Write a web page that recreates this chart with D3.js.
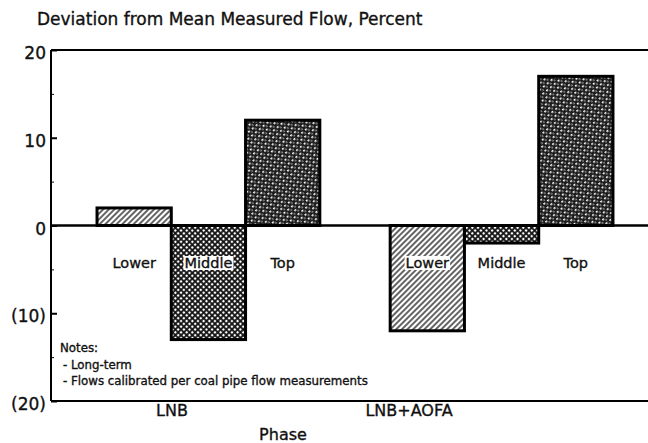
<!DOCTYPE html>
<html>
<head>
<meta charset="utf-8">
<script src="https://cdn.jsdelivr.net/npm/d3@7"></script>
<style>
  body { margin: 0; background: #fff; }
  text { font-family: "DejaVu Sans", Verdana, sans-serif; fill: #111; stroke: #111; stroke-width: 0.35px; }
</style>
</head>
<body>
<script>
// data
const phases = ["LNB", "LNB+AOFA"];
const positions = ["Lower", "Middle", "Top"];
const lnbValues = [2, -13, 12];
const lnbAofaValues = [-12, -2, 17];
const yTicks = [20, 10, 0, -10, -20];
const minorTicks = [15, 5, -5, -15];
const notes = ["Notes:", "- Long-term", "- Flows calibrated per coal pipe flow measurements"];

const rows = [];
[lnbValues, lnbAofaValues].forEach(function (vals, i) {
    vals.forEach(function (v, j) {
        rows.push({phase: phases[i], position: positions[j], value: v});
    });
});

var width = 648, height = 443;
var plot = {left: 51, right: 648, top: 50, bottom: 401};

var svg = d3.select("body").append("svg")
    .attr("width", width)
    .attr("height", height);

// patterns
var defs = svg.append("defs");
var hatch = defs.append("pattern")
    .attr("id", "pat-Lower")
    .attr("patternUnits", "userSpaceOnUse")
    .attr("width", 4).attr("height", 4)
    .attr("patternTransform", "rotate(45)");
hatch.append("rect").attr("width", 4).attr("height", 4).attr("fill", "#fff");
hatch.append("line").attr("x1", 1).attr("y1", 0).attr("x2", 1).attr("y2", 4)
    .attr("stroke", "#222").attr("stroke-width", 1.4);

var cross = defs.append("pattern")
    .attr("id", "pat-Middle")
    .attr("patternUnits", "userSpaceOnUse")
    .attr("width", 4).attr("height", 4)
    .attr("patternTransform", "rotate(45)");
cross.append("rect").attr("width", 4).attr("height", 4).attr("fill", "#fff");
cross.append("line").attr("x1", 1).attr("y1", 0).attr("x2", 1).attr("y2", 4)
    .attr("stroke", "#111").attr("stroke-width", 1.8);
cross.append("line").attr("x1", 0).attr("y1", 1).attr("x2", 4).attr("y2", 1)
    .attr("stroke", "#111").attr("stroke-width", 1.8);

var dense = defs.append("pattern")
    .attr("id", "pat-Top")
    .attr("patternUnits", "userSpaceOnUse")
    .attr("width", 5).attr("height", 5)
    .attr("patternTransform", "rotate(-40)");
dense.append("rect").attr("width", 5).attr("height", 5).attr("fill", "#1c1c1c");
dense.append("rect").attr("x", 0).attr("y", 0).attr("width", 2.2).attr("height", 1.6).attr("fill", "#fff");
dense.append("rect").attr("x", 2.5).attr("y", 2.5).attr("width", 1.4).attr("height", 1.2).attr("fill", "#ddd");

// scales
var x = d3.scaleBand()
    .domain(phases)
    .range([plot.left, 659])
    .paddingInner(0.24)
    .paddingOuter(0.157);
var xInner = d3.scaleBand()
    .domain(positions)
    .range([0, x.bandwidth()]);
var y = d3.scaleLinear()
    .domain([-20, 20])
    .range([plot.bottom, plot.top]);
var labelX = d3.scalePoint()
    .domain(phases)
    .range([172, 409]);

// bars
var bars = svg.append("g");
bars.selectAll("rect")
    .data(rows)
    .enter().append("rect")
    .attr("x", d => x(d.phase) + xInner(d.position))
    .attr("width", xInner.bandwidth())
    .attr("y", d => y(Math.max(0, d.value)))
    .attr("height", d => Math.abs(y(d.value) - y(0)))
    .attr("fill", d => "url(#pat-" + d.position + ")")
    .attr("stroke", "#000")
    .attr("stroke-width", 3);

// frame lines
svg.append("line")
    .attr("x1", plot.left).attr("x2", plot.right)
    .attr("y1", y(20)).attr("y2", y(20))
    .attr("stroke", "#000").attr("stroke-width", 2);
svg.append("line")
    .attr("x1", plot.left).attr("x2", plot.right)
    .attr("y1", y(-20)).attr("y2", y(-20))
    .attr("stroke", "#000").attr("stroke-width", 2);
svg.append("line")
    .attr("x1", plot.left).attr("x2", plot.right)
    .attr("y1", y(0)).attr("y2", y(0))
    .attr("stroke", "#000").attr("stroke-width", 2.5);

// y axis, ticks on the inside
var yAxis = svg.append("g")
    .attr("transform", "translate(" + plot.left + ",0)")
    .call(d3.axisRight(y)
        .tickValues(yTicks)
        .tickSize(6)
        .tickFormat(""));
yAxis.select(".domain").attr("stroke-width", 2).attr("d", "M0," + y(20) + "V" + y(-20));
yAxis.selectAll(".tick line").attr("stroke-width", 2);

svg.append("g")
    .attr("transform", "translate(" + plot.left + ",0)")
    .call(d3.axisRight(y).tickValues(minorTicks).tickSize(3).tickFormat(""))
    .call(g => g.select(".domain").remove());

svg.append("g").selectAll("text")
    .data(yTicks)
    .enter().append("text")
    .attr("x", 46)
    .attr("y", d => y(d) + 9)
    .attr("text-anchor", "end")
    .attr("font-size", "17px")
    .text(d => d < 0 ? "(" + (-d) + ")" : d);

// position labels inside the bars
var labels = svg.append("g").selectAll("g")
    .data(rows)
    .enter().append("g")
    .attr("transform", d => "translate(" + (x(d.phase) + xInner(d.position) + xInner.bandwidth() / 2) + "," + (y(0) + 42.5) + ")");
labels.append("text")
    .attr("text-anchor", "middle")
    .attr("font-size", "14.5px")
    .text(d => d.position)
    .each(function () {
        var b = this.getBBox();
        d3.select(this.parentNode).insert("rect", "text")
            .attr("x", b.x - 1).attr("y", b.y + 1)
            .attr("width", b.width + 2).attr("height", b.height - 2)
            .attr("fill", "#fff");
    });

// phase labels
svg.append("g").selectAll("text")
    .data(phases)
    .enter().append("text")
    .attr("x", d => labelX(d))
    .attr("y", 416)
    .attr("text-anchor", "middle")
    .attr("font-size", "16px")
    .text(d => d);

svg.append("text")
    .text("Phase")
    .attr("x", 283)
    .attr("y", 440)
    .attr("text-anchor", "middle")
    .attr("font-size", "16px");

// title
svg.append("text")
    .text("Deviation from Mean Measured Flow, Percent")
    .attr("x", 37)
    .attr("y", 25)
    .attr("font-family", "'Liberation Sans', Arial, sans-serif")
    .attr("font-size", "17px");

// notes
svg.append("g").selectAll("text")
    .data(notes)
    .enter().append("text")
    .attr("x", (d, i) => i === 0 ? 60 : 63)
    .attr("y", (d, i) => 352 + i * 16.5)
    .attr("font-size", "11.8px")
    .text(d => d);
</script>
</body>
</html>
